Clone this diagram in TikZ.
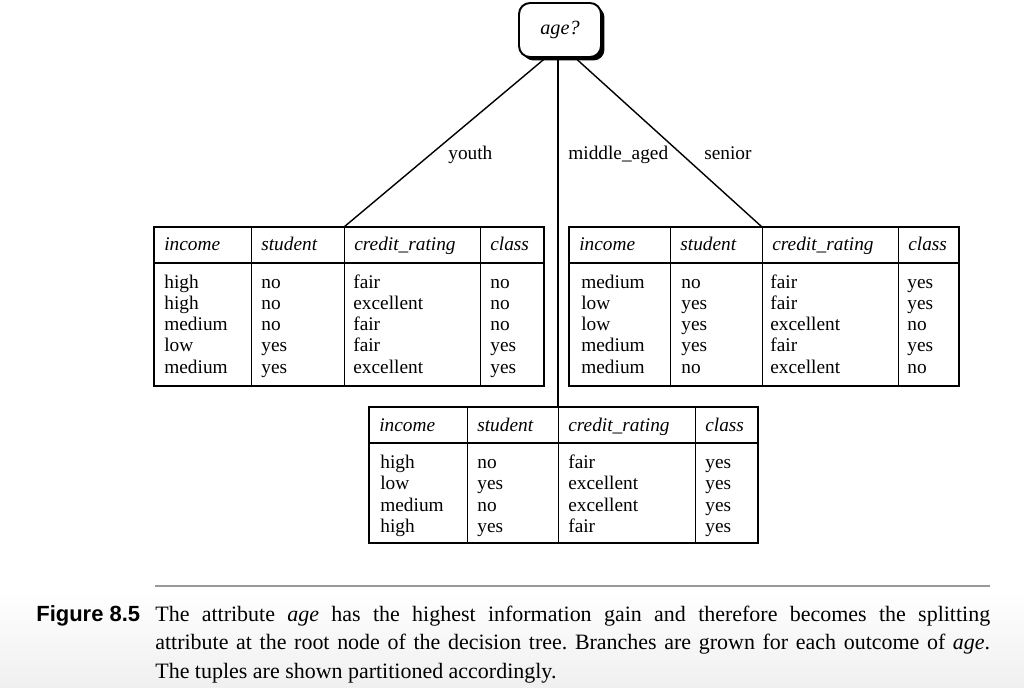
\documentclass[tikz,border=0pt]{standalone}
\usepackage{fontspec}
\setmainfont{Liberation Serif}
\newfontfamily\capsans{Liberation Sans}
\usetikzlibrary{shadows}

\begin{document}
\begin{tikzpicture}[x=0.02cm,y=-0.02cm,
	every node/.style={font=\fontsize{11}{13}\selectfont},
	rootbox/.style={draw, line width=1.1pt, rounded corners=0.22cm, fill=white,
		minimum width=1.64cm, minimum height=1.08cm, font=\fontsize{11.5}{13}\selectfont\itshape,
		drop shadow={shadow xshift=0.07cm, shadow yshift=-0.07cm, fill=black, opacity=1}},
	head/.style={anchor=base west, inner sep=0pt, font=\fontsize{11}{13}\selectfont\itshape},
	cell/.style={anchor=base west, inner sep=0pt},
	branch/.style={anchor=base west, inner sep=0pt},
	tabframe/.style={line width=1.3pt},
	colline/.style={line width=0.5pt}]
\useasboundingbox (0,0) rectangle (1024,687);
\shade[top color=white, bottom color=black!6] (0,590) rectangle (1024,687);

\coordinate (hub) at (561,45);
\coordinate (mhub) at (558,45);
\coordinate (ytop) at (344,227);
\coordinate (mtop) at (558,407);
\coordinate (stop) at (762,227);
\draw[thick] (hub) -- (ytop);
\draw[thick] (mhub) -- (mtop);
\draw[thick] (hub) -- (stop);
\node[rootbox] (root) at (560,30) {age?};

\node[branch] (youth) at (448,159) {youth};
\node[branch] (middle) at (568,159) {middle\_aged};
\node[branch] (senior) at (704,159) {senior};

\draw[tabframe] (154,227) rectangle (544,386);
\draw[tabframe] (154,263) -- (544,263);
\foreach \x in {251,344,480}
	\draw[colline] (\x,227) -- (\x,386);
\foreach \x/\t [count=\j] in {154/income,251/student,344/credit\_rating,480/class}
	\node[head] (yh\j) at (\x+10,250) {\t};
\foreach \a/\b/\c/\d [count=\i] in {high/no/fair/no, high/no/excellent/no, medium/no/fair/no, low/yes/fair/yes, medium/yes/excellent/yes}
{
	\node[cell] (ya\i) at (164,{288+21.3*(\i-1)}) {\a};
	\node[cell] (yb\i) at (261,{288+21.3*(\i-1)}) {\b};
	\node[cell] (yc\i) at (353,{288+21.3*(\i-1)}) {\c};
	\node[cell] (yd\i) at (490,{288+21.3*(\i-1)}) {\d};
}

\draw[tabframe] (569,227) rectangle (959,386);
\draw[tabframe] (569,263) -- (959,263);
\foreach \x in {670,762,898}
	\draw[colline] (\x,227) -- (\x,386);
\foreach \x/\t [count=\j] in {569/income,670/student,762/credit\_rating,898/class}
	\node[head] (sh\j) at (\x+10,250) {\t};
\foreach \a/\b/\c/\d [count=\i] in {medium/no/fair/yes, low/yes/fair/yes, low/yes/excellent/no, medium/yes/fair/yes, medium/no/excellent/no}
{
	\node[cell] (sa\i) at (581,{288+21.3*(\i-1)}) {\a};
	\node[cell] (sb\i) at (681,{288+21.3*(\i-1)}) {\b};
	\node[cell] (sc\i) at (770,{288+21.3*(\i-1)}) {\c};
	\node[cell] (sd\i) at (907,{288+21.3*(\i-1)}) {\d};
}

\draw[tabframe] (369,407) rectangle (758,543);
\draw[tabframe] (369,443) -- (758,443);
\foreach \x in {467,558,695}
	\draw[colline] (\x,407) -- (\x,543);
\foreach \x/\t [count=\j] in {369/income,467/student,558/credit\_rating,695/class}
	\node[head] (mh\j) at (\x+10,431) {\t};
\foreach \a/\b/\c/\d [count=\i] in {high/no/fair/yes, low/yes/excellent/yes, medium/no/excellent/yes, high/yes/fair/yes}
{
	\node[cell] (ma\i) at (380,{468+21.6*(\i-1)}) {\a};
	\node[cell] (mb\i) at (477,{468+21.6*(\i-1)}) {\b};
	\node[cell] (mc\i) at (568,{468+21.6*(\i-1)}) {\c};
	\node[cell] (md\i) at (705,{468+21.6*(\i-1)}) {\d};
}

\draw[gray!80, line width=1pt] (155,586) -- (990,586);
\node[anchor=base west, inner sep=0pt, font=\fontsize{12.5}{14}\selectfont\capsans\bfseries] (fignum) at (36,621) {Figure 8.5};
\node[anchor=base west, inner sep=0pt, text width=16.7cm, align=justify, font=\fontsize{12.5}{16.44}\selectfont\frenchspacing] (figtext) at (155,621)
	{The attribute \textit{age} has the highest information gain and therefore becomes the splitting\linebreak
	attribute at the root node of the decision tree. Branches are grown for each outcome of \textit{age}.\linebreak
	The tuples are shown partitioned accordingly.};
\end{tikzpicture}
\end{document}
